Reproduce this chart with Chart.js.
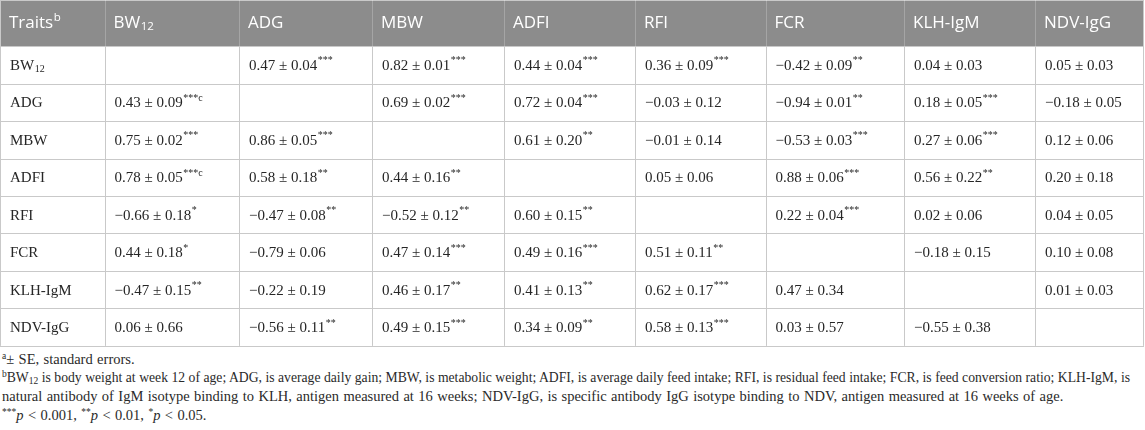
<!DOCTYPE html>
<html>
<head>
<meta charset="utf-8">
<script src="https://cdn.jsdelivr.net/npm/chart.js@4.4.1/dist/chart.umd.min.js"></script>
<style>
  html,body{margin:0;padding:0;background:#fff;}
  #wrap{width:1145px;height:430px;position:relative;overflow:hidden;}
  canvas{display:block;}
  #notes{position:absolute;left:2px;top:350px;width:1128px;font-family:"Liberation Serif","DejaVu Serif",serif;color:#2a2a2a;font-size:14.5px;line-height:18.5px;word-spacing:0.8px;}
  #notes .j{text-align:justify;text-align-last:justify;white-space:nowrap;word-spacing:0;}
  #notes sup{font-size:9.5px;line-height:0;vertical-align:5px;}
  #notes sub{font-size:9.5px;line-height:0;vertical-align:-2px;}
</style>
</head>
<body>
<div id="wrap">
<canvas id="c" width="1145" height="347"></canvas>
<div id="notes">
  <div><sup>a</sup>± SE, standard errors.</div>
  <div class="j" id="l1"><sup>b</sup>BW<sub>12</sub> is body weight at week 12 of age; ADG, is average daily gain; MBW, is metabolic weight; ADFI, is average daily feed intake; RFI, is residual feed intake; FCR, is feed conversion ratio; KLH-IgM, is</div>
  <div>natural antibody of IgM isotype binding to KLH, antigen measured at 16 weeks; NDV-IgG, is specific antibody IgG isotype binding to NDV, antigen measured at 16 weeks of age.</div>
  <div><sup>***</sup><i>p</i> &lt; 0.001, <sup>**</sup><i>p</i> &lt; 0.01, <sup>*</sup><i>p</i> &lt; 0.05.</div>
</div>
</div>
<script>
// ---- data ----
const columns = ['Traits', 'BW12', 'ADG', 'MBW', 'ADFI', 'RFI', 'FCR', 'KLH-IgM', 'NDV-IgG'];
const traits  = ['BW12', 'ADG', 'MBW', 'ADFI', 'RFI', 'FCR', 'KLH-IgM', 'NDV-IgG'];
// each cell: [estimate, SE, significance]
const rowBW12 = [null, [0.47, 0.04, '***'], [0.82, 0.01, '***'], [0.44, 0.04, '***'], [0.36, 0.09, '***'], [-0.42, 0.09, '**'], [0.04, 0.03, ''], [0.05, 0.03, '']];
const rowADG  = [[0.43, 0.09, '***c'], null, [0.69, 0.02, '***'], [0.72, 0.04, '***'], [-0.03, 0.12, ''], [-0.94, 0.01, '**'], [0.18, 0.05, '***'], [-0.18, 0.05, '']];
const rowMBW  = [[0.75, 0.02, '***'], [0.86, 0.05, '***'], null, [0.61, 0.20, '**'], [-0.01, 0.14, ''], [-0.53, 0.03, '***'], [0.27, 0.06, '***'], [0.12, 0.06, '']];
const rowADFI = [[0.78, 0.05, '***c'], [0.58, 0.18, '**'], [0.44, 0.16, '**'], null, [0.05, 0.06, ''], [0.88, 0.06, '***'], [0.56, 0.22, '**'], [0.20, 0.18, '']];
const rowRFI  = [[-0.66, 0.18, '*'], [-0.47, 0.08, '**'], [-0.52, 0.12, '**'], [0.60, 0.15, '**'], null, [0.22, 0.04, '***'], [0.02, 0.06, ''], [0.04, 0.05, '']];
const rowFCR  = [[0.44, 0.18, '*'], [-0.79, 0.06, ''], [0.47, 0.14, '***'], [0.49, 0.16, '***'], [0.51, 0.11, '**'], null, [-0.18, 0.15, ''], [0.10, 0.08, '']];
const rowKLH  = [[-0.47, 0.15, '**'], [-0.22, 0.19, ''], [0.46, 0.17, '**'], [0.41, 0.13, '**'], [0.62, 0.17, '***'], [0.47, 0.34, ''], null, [0.01, 0.03, '']];
const rowNDV  = [[0.06, 0.66, ''], [-0.56, 0.11, '**'], [0.49, 0.15, '***'], [0.34, 0.09, '**'], [0.58, 0.13, '***'], [0.03, 0.57, ''], [-0.55, 0.38, ''], null];
const rows = [rowBW12, rowADG, rowMBW, rowADFI, rowRFI, rowFCR, rowKLH, rowNDV];

// ---- layout (scale units) ----
const colEdges = [0, 104.5, 239, 372, 504, 635, 765.5, 904, 1035, 1144];
const headerUnits = 1.23;   // header height in row units

function fmt(v){ return (v < 0 ? '\u2212' : '') + Math.abs(v).toFixed(2); }
function splitSub(label){
  const m = label.match(/^BW(\d+)$/);
  return m ? {t:'BW', sub:m[1]} : {t:label, sub:''};
}
const centerOf = i => (colEdges[i] + colEdges[i+1]) / 2;

const headerPts = columns.map((c, i) => Object.assign({x: centerOf(i), y: -headerUnits/2, col: i, sup: i === 0 ? 'b' : ''}, splitSub(c)));
const labelPts = traits.map((t, r) => Object.assign({x: centerOf(0), y: r + 0.5, col: 0, sup: ''}, splitSub(t)));
const valuePts = [];
rows.forEach((row, r) => row.forEach((cell, c) => {
  if (!cell) return;
  valuePts.push({x: centerOf(c+1), y: r + 0.5, col: c+1, t: fmt(cell[0]) + ' \u00b1 ' + fmt(cell[1]), sub: '', sup: cell[2]});
}));

const GRID = '#c9c9c9';
const tablePlugin = {
  id: 'tablePlugin',
  beforeDatasetsDraw(chart){
    const {ctx, scales:{x, y}} = chart;
    const top = y.getPixelForValue(-headerUnits), hb = y.getPixelForValue(0), bot = y.getPixelForValue(traits.length);
    const L = x.getPixelForValue(colEdges[0]), R = x.getPixelForValue(colEdges[colEdges.length-1]);
    ctx.save();
    ctx.fillStyle = '#8c8c8c';
    ctx.fillRect(L, top, R - L, hb - top);
    ctx.lineWidth = 1;
    ctx.strokeStyle = GRID;
    for (let r = 0; r <= traits.length; r++){
      const py = Math.round(y.getPixelForValue(r)) + 0.5;
      ctx.beginPath(); ctx.moveTo(L, py); ctx.lineTo(R, py); ctx.stroke();
    }
    ctx.beginPath(); ctx.moveTo(L, top + 0.5); ctx.lineTo(R, top + 0.5); ctx.stroke();
    colEdges.forEach((e, i) => {
      const px = Math.round(x.getPixelForValue(e)) + (i === colEdges.length-1 ? -0.5 : 0.5);
      ctx.strokeStyle = GRID;
      ctx.beginPath(); ctx.moveTo(px, hb); ctx.lineTo(px, bot); ctx.stroke();
      ctx.strokeStyle = (i === 0 || i === colEdges.length-1) ? GRID : 'rgba(255,255,255,0.22)';
      ctx.beginPath(); ctx.moveTo(px, top); ctx.lineTo(px, hb); ctx.stroke();
    });
    ctx.restore();
  },
  afterDatasetsDraw(chart){
    const {ctx, scales:{x}} = chart;
    ctx.save();
    ctx.textBaseline = 'middle';
    chart.data.datasets.forEach((ds, di) => {
      const meta = chart.getDatasetMeta(di);
      const isHead = di === 0;
      const mainFont = isHead ? '17px "Open Sans"' : '15px "Liberation Serif"';
      const smallFont = isHead ? '11.5px "Open Sans"' : '10px "Liberation Serif"';
      ctx.fillStyle = isHead ? '#ffffff' : '#262626';
      meta.data.forEach((el, k) => {
        const d = ds.data[k];
        let px = x.getPixelForValue(colEdges[d.col]) + (isHead ? 9 : 10);
        const py = el.y + (isHead ? 0 : 1);
        ctx.font = mainFont;
        ctx.fillText(d.t, px, py);
        px += ctx.measureText(d.t).width;
        ctx.font = smallFont;
        if (d.sub){ ctx.fillText(d.sub, px + 0.5, py + 4); px += ctx.measureText(d.sub).width + 0.5; }
        if (d.sup){ ctx.fillText(d.sup, px + 0.5, py - 5); }
      });
    });
    ctx.restore();
  }
};

new Chart(document.getElementById('c'), {
  type: 'scatter',
  data: { datasets: [
    {data: headerPts, pointRadius: 0},
    {data: labelPts, pointRadius: 0},
    {data: valuePts, pointRadius: 0}
  ]},
  options: {
    responsive: false, animation: false, devicePixelRatio: 1,
    layout: {padding: 0},
    plugins: {legend: {display: false}, tooltip: {enabled: false}},
    events: [],
    scales: {
      x: {type: 'linear', display: false, min: 0, max: 1145},
      y: {type: 'linear', display: false, reverse: true, min: -headerUnits, max: traits.length + 0.03}
    }
  },
  plugins: [tablePlugin]
});

// fit justified first line of note b
(function(){
  const el = document.getElementById('l1');
  const span = document.createElement('span');
  span.style.cssText = 'white-space:nowrap;position:absolute;visibility:hidden;font:inherit;word-spacing:0;';
  span.innerHTML = el.innerHTML;
  document.getElementById('notes').appendChild(span);
  const w = span.getBoundingClientRect().width;
  span.remove();
  if (w > 1126){ el.style.fontSize = (14.5 * 1126 / w).toFixed(2) + 'px'; }
})();
</script>
</body>
</html>
